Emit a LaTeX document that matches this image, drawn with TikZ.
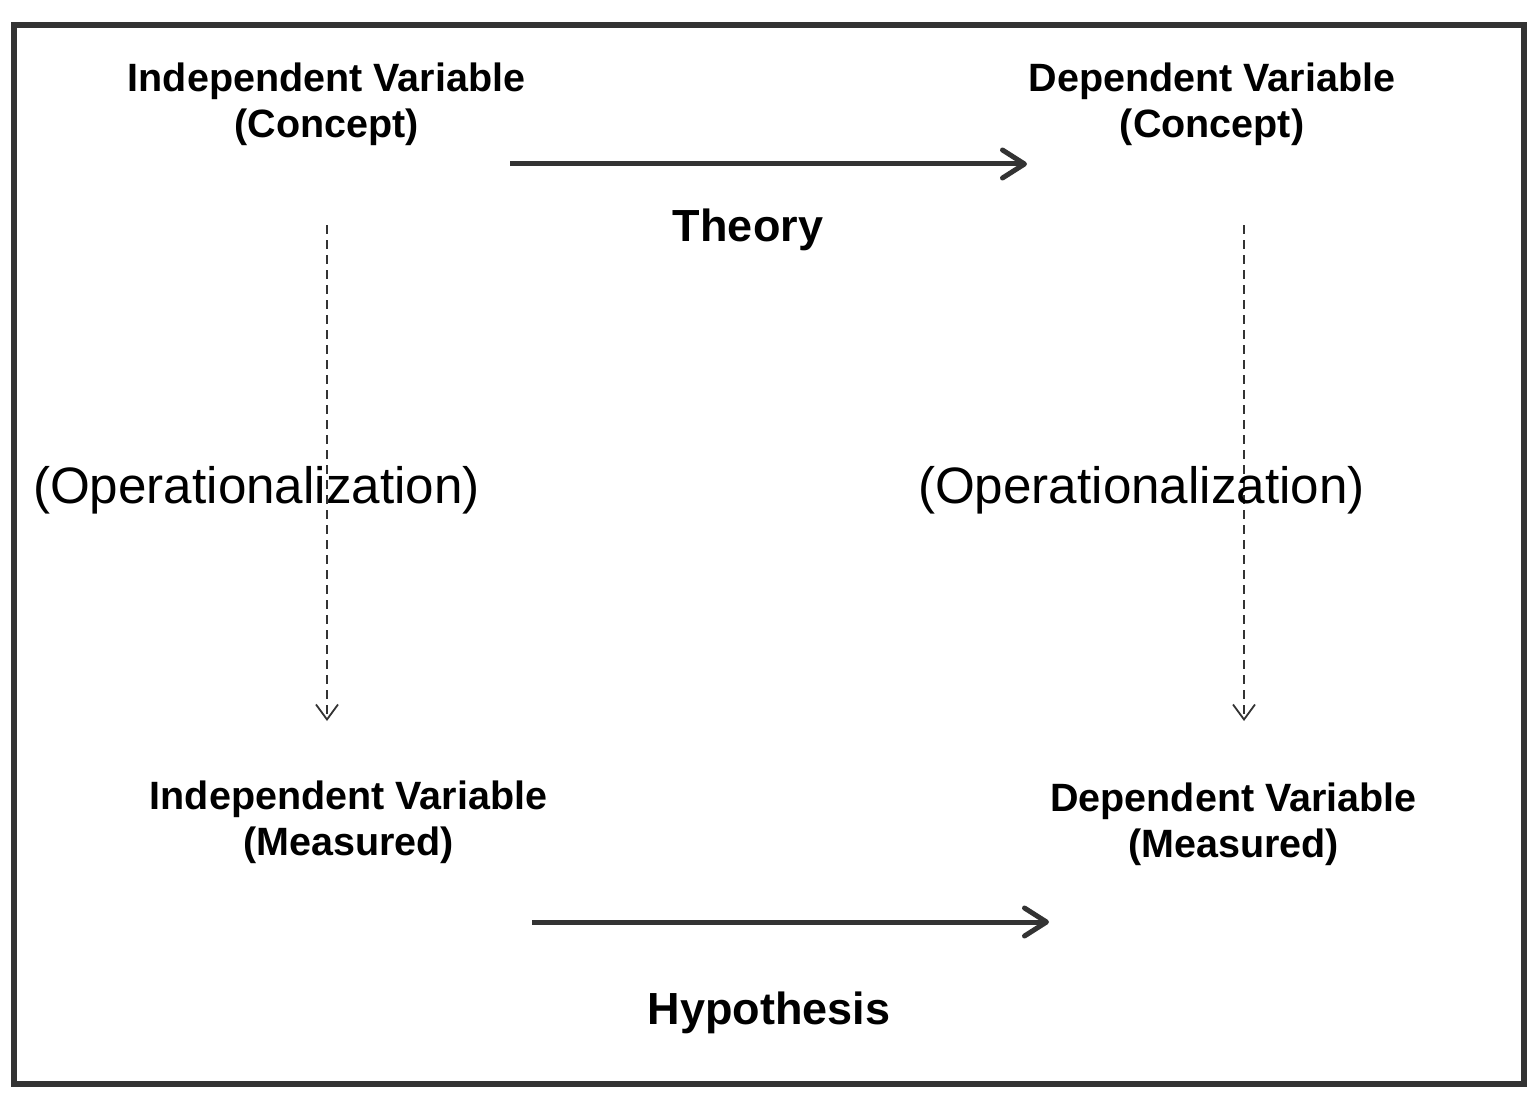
\documentclass[tikz,border=0pt]{standalone}
\usepackage{fontspec}
\setmainfont{Liberation Sans}
\usetikzlibrary{arrows.meta}
\definecolor{ink}{HTML}{333333}
\begin{document}
\begin{tikzpicture}[x=1pt,y=-1pt,
  varlabel/.style={align=center,inner sep=0pt,font=\fontsize{39.5}{46}\selectfont\bfseries},
  linklabel/.style={anchor=base,inner sep=0pt,font=\fontsize{45}{50}\selectfont\bfseries},
  oplabel/.style={anchor=base,inner sep=0pt,font=\fontsize{51.2}{58}\selectfont},
  mainarrow/.style={draw=ink,line width=5pt,
    -{Straight Barb[length=22pt,width=28pt,line cap=round,line join=round]}},
  oparrow/.style={draw=ink,line width=1.8pt,dash pattern=on 9pt off 6pt,
    -{Straight Barb[length=15pt,width=22pt]}}]
  % canvas and frame
  \useasboundingbox (0,0) rectangle (1538,1102);
  \draw[ink,line width=6pt] (14,25) rectangle (1524,1083.5);

  % variable labels
  \node[varlabel] (ivc) at (326.5,104) {Independent Variable\\(Concept)};
  \node[varlabel] (dvc) at (1212,104) {Dependent Variable\\(Concept)};
  \node[varlabel] (ivm) at (348.5,822) {Independent Variable\\(Measured)};
  \node[varlabel] (dvm) at (1233.5,824) {Dependent Variable\\(Measured)};

  % relation labels
  \node[linklabel] (theory) at (748,241) {Theory};
  \node[linklabel] (hyp) at (769,1024) {Hypothesis};

  % arrow end points
  \coordinate (thS) at (510,164);
  \coordinate (thE) at (1027,164);
  \coordinate (hyS) at (532,922);
  \coordinate (hyE) at (1049,922);
  \coordinate (opLs) at (327,225);
  \coordinate (opLe) at (327,721);
  \coordinate (opRs) at (1244,225);
  \coordinate (opRe) at (1244,721);

  % operationalization links (drawn under their labels)
  \draw[oparrow] (opLs) -- (opLe);
  \draw[oparrow] (opRs) -- (opRe);
  \node[oplabel] (opl) at (256.5,503) {(Operationalization)};
  \node[oplabel] (opr) at (1141.5,503) {(Operationalization)};

  % theory and hypothesis links
  \draw[mainarrow] (thS) -- (thE);
  \draw[mainarrow] (hyS) -- (hyE);
\end{tikzpicture}
\end{document}
